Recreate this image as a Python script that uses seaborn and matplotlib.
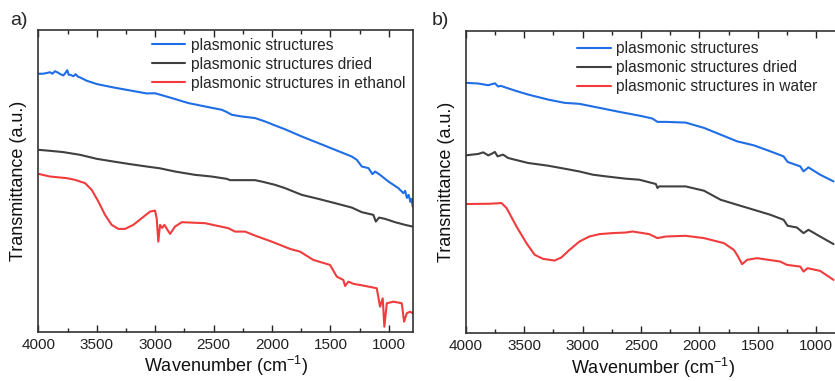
import numpy as np
import pandas as pd
import matplotlib
matplotlib.use("Agg")
import matplotlib.pyplot as plt
from matplotlib.ticker import MultipleLocator
import seaborn as sns

# series names
names_a = ["plasmonic structures", "plasmonic structures dried", "plasmonic structures in ethanol"]
names_b = ["plasmonic structures", "plasmonic structures dried", "plasmonic structures in water"]

# panel a) -- wavenumber (cm-1) and transmittance (a.u.)
a_blue_wn = [4000, 3960, 3928, 3900, 3880, 3857, 3830, 3814, 3800, 3786, 3770, 3752, 3740, 3723, 3700,
             3680, 3660, 3643, 3620, 3586, 3500, 3358, 3215, 3072, 3001, 2858, 2716, 2573, 2430, 2387,
             2344, 2259, 2145, 2059, 1973, 1888, 1745, 1603, 1460, 1317, 1274, 1231, 1174, 1140, 1117,
             1075, 1003, 918, 875, 860, 845, 830, 815, 805, 795]
a_blue_t = [258, 258, 258.7, 259.5, 258, 260.5, 259, 257.7, 257, 256.3, 258.5, 261.5, 257, 256.8, 255.5,
            257.5, 255, 254.3, 253, 251, 247.7, 244.3, 241.3, 238.3, 238.5, 233.7, 228.7, 225.3, 222, 219.7,
            217, 215.3, 213.7, 210.3, 206.3, 202.5, 195.3, 188.7, 182, 175.3, 172, 165.3, 163.7, 157.7, 160.3,
            157, 150.3, 143.7, 138.7, 141, 134, 137, 130, 133, 125]

a_gray_wn = [4000, 3900, 3786, 3643, 3500, 3358, 3215, 3072, 2958, 2830, 2659, 2516, 2387, 2359, 2145,
             2088, 1973, 1888, 1745, 1603, 1460, 1317, 1231, 1132, 1111, 1083, 1032, 946, 860, 795]
a_gray_t = [182, 181, 179.7, 177, 173, 170.3, 167.7, 165.3, 163.5, 160.3, 157, 155.3, 153, 151.7, 151.7,
            150.3, 147, 143.7, 137, 133, 128.7, 124.3, 119.7, 117, 110.3, 114.3, 113, 109.7, 107, 105.3]

a_red_wn = [4000, 3900, 3757, 3686, 3600, 3543, 3486, 3429, 3372, 3315, 3258, 3187, 3115, 3044, 3001,
            2987, 2973, 2958, 2940, 2921, 2900, 2872, 2830, 2772, 2573, 2373, 2316, 2230, 2145, 2002,
            1845, 1760, 1646, 1503, 1445, 1389, 1374, 1346, 1300, 1246, 1103, 1075, 1052, 1038, 1017,
            960, 889, 869, 846, 818, 795]
a_red_t = [158, 155.3, 153.7, 152, 148.7, 142, 130.3, 117, 107, 103, 103, 107, 113.7, 120.3, 121.3,
           113.7, 90.3, 107, 104, 107, 103, 98, 105.3, 109.7, 108.7, 103.7, 100.3, 100.3, 96.3, 90.3,
           83, 80.3, 72, 67, 55.3, 52, 46, 50.3, 48, 47, 43.7, 25.3, 33.7, 5.3, 28.7,
           30.3, 28.7, 10.3, 18.7, 20.3, 18.7]

# panel b)
b_blue_wn = [4000, 3893, 3807, 3780, 3750, 3722, 3700, 3665, 3580, 3466, 3296, 3154, 3026, 2855, 2685,
             2486, 2401, 2358, 2287, 2117, 1960, 1818, 1677, 1534, 1392, 1279, 1244, 1136, 1108, 1066,
             966, 851]
b_blue_t = [250, 249.3, 247.6, 248.5, 249.5, 246.3, 247, 245.6, 242.3, 238.3, 233.3, 230, 229, 225, 221,
            216.6, 214.3, 211, 211, 210.3, 205, 198.3, 191.6, 187.6, 181.6, 176.6, 171, 166.6, 161.6, 165.6,
            158.3, 151.6]

b_gray_wn = [4000, 3893, 3850, 3807, 3780, 3750, 3727, 3680, 3637, 3580, 3466, 3296, 3154, 3026, 2912,
             2798, 2628, 2514, 2372, 2358, 2344, 2117, 1960, 1818, 1677, 1534, 1392, 1279, 1244, 1165,
             1108, 1066, 966, 851]
b_gray_t = [177.6, 179, 180.6, 177.6, 179, 181, 176.6, 178.3, 175, 173.3, 170, 167.3, 164.3, 161.5, 158.3,
            156.6, 154.3, 153.3, 149, 145, 146.6, 146.6, 142.3, 133.3, 128.3, 123.3, 118.3, 113.3, 107.3, 105.6,
            100, 103.3, 96.6, 89]

b_red_wn = [4000, 3793, 3693, 3650, 3565, 3480, 3409, 3338, 3239, 3182, 3111, 3026, 2941, 2855, 2742,
            2628, 2571, 2430, 2358, 2287, 2117, 1960, 1790, 1705, 1677, 1634, 1591, 1506, 1307, 1250,
            1136, 1108, 1074, 966, 851]
b_red_t = [129, 129.3, 130, 125, 106.6, 90, 78.3, 74.3, 72.6, 75.6, 83.3, 91.6, 96.6, 99, 100,
           100.6, 101.6, 99, 95, 96.6, 97.3, 95, 90, 83.3, 78.3, 69, 73.3, 75, 71.6, 68.3,
           66.6, 61.6, 65, 62.3, 53.3]

colors = ["#1f6ee6", "#404040", "#f03c3c"]


def make_frame(names, series):
    parts = []
    for name, (wn, t) in zip(names, series):
        parts.append(pd.DataFrame({"wn": wn, "t": t, "sample": name}))
    return pd.concat(parts, ignore_index=True)


df_a = make_frame(names_a, [(a_blue_wn, a_blue_t), (a_gray_wn, a_gray_t), (a_red_wn, a_red_t)])
df_b = make_frame(names_b, [(b_blue_wn, b_blue_t), (b_gray_wn, b_gray_t), (b_red_wn, b_red_t)])

sns.set_theme(style="ticks")
plt.rcParams["font.family"] = ["Liberation Sans", "DejaVu Sans"]
plt.rcParams["mathtext.default"] = "regular"

fig = plt.figure(figsize=(8.35, 3.81), dpi=100)
ax_a = fig.add_axes([0.0459, 0.1286, 0.4484, 0.7935])
ax_b = fig.add_axes([0.5577, 0.1252, 0.4484, 0.7942])

for ax, df, names, leg_x, leg_y in [
    (ax_a, df_a, names_a, 0.1724, 0.921),
    (ax_b, df_b, names_b, 0.682, 0.912),
]:
    sns.lineplot(data=df, x="wn", y="t", hue="sample", hue_order=names,
                 palette=colors, estimator=None, sort=False, linewidth=1.5, ax=ax)
    ax.set_xlim(4000, 795)
    ax.set_ylim(0, 302)
    ax.xaxis.set_major_locator(MultipleLocator(500))
    ax.xaxis.set_minor_locator(MultipleLocator(250))
    ax.tick_params(axis="x", which="both", direction="in", top=True, bottom=True,
                   labelsize=11, pad=4, colors="#222222")
    ax.tick_params(axis="x", which="major", length=5, width=1)
    ax.tick_params(axis="x", which="minor", length=3, width=1)
    ax.set_yticks([])
    for sp in ax.spines.values():
        sp.set_visible(True)
        sp.set_linewidth(1.2)
        sp.set_color("#333333")
    ax.set_xlabel(r"Wavenumber (cm$^{-1}$)", fontsize=13, labelpad=2, color="#111111")
    ax.set_ylabel("Transmittance (a.u.)", fontsize=13, labelpad=8, color="#111111")
    ax.legend(title=None, frameon=False, fontsize=11.2, loc="upper left",
              bbox_to_anchor=(leg_x, leg_y), bbox_transform=fig.transFigure,
              handlelength=2.15, handletextpad=0.35, labelspacing=0.25, borderpad=0)

fig.text(0.012, 0.945, "a)", fontsize=14, va="center", ha="left")
fig.text(0.517, 0.945, "b)", fontsize=14, va="center", ha="left")

fig.savefig("out.png", dpi=100)
